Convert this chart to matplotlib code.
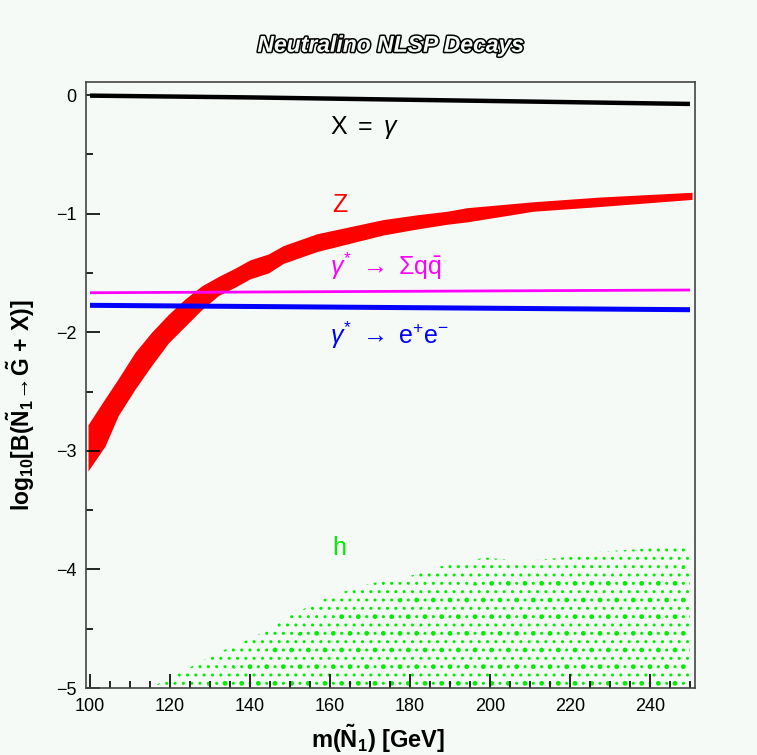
import matplotlib
matplotlib.use("Agg")
import matplotlib.pyplot as plt
import matplotlib.patheffects as pe
from matplotlib.ticker import MultipleLocator

plt.rcParams['font.family'] = ['Liberation Sans', 'DejaVu Sans']
plt.rcParams['mathtext.fontset'] = 'custom'
plt.rcParams['mathtext.rm'] = 'Liberation Sans'
plt.rcParams['mathtext.it'] = 'Liberation Sans:italic'
plt.rcParams['mathtext.bf'] = 'Liberation Sans:bold'
plt.rcParams['hatch.linewidth'] = 1.0

# ---- data ----
# X = gamma (black band)
gam_x = [100, 140, 180, 220, 250]
gam_y = [-0.005, -0.02, -0.04, -0.06, -0.075]

# gamma* -> sum q qbar (magenta)
qq_x = [100, 250]
qq_y = [-1.667, -1.644]

# gamma* -> e+ e- (blue)
ee_x = [100, 250]
ee_y = [-1.773, -1.81]

# Z band (red): lower and upper edges
z_x = [99.5, 103.75, 107.1, 111.25, 115.4, 119.6, 123.75, 127.9, 132.1, 136.25,
       140.0, 144.6, 148.3, 156.7, 165.0, 173.3, 181.7, 189.2, 194.2, 210.8, 227.5, 250.5]
z_lo = [-3.17, -2.96, -2.70, -2.48, -2.28, -2.09, -1.95, -1.81, -1.69, -1.62,
        -1.55, -1.50, -1.42, -1.32, -1.25, -1.18, -1.13, -1.09, -1.07, -0.98, -0.94, -0.88]
z_hi = [-2.78, -2.56, -2.39, -2.17, -2.00, -1.85, -1.72, -1.61, -1.53, -1.46,
        -1.39, -1.34, -1.27, -1.17, -1.11, -1.05, -1.01, -0.98, -0.95, -0.90, -0.86, -0.82]

# h cloud (green): upper envelope of the scattered points
h_x = [115, 122, 131.4, 141, 150.6, 160.3, 169.9, 179.5, 189.1, 198.8, 208.4, 218, 227.6, 237, 250]
h_hi = [-5.0, -4.88, -4.71, -4.57, -4.38, -4.22, -4.12, -4.06, -3.96, -3.90, -3.93, -3.90, -3.85, -3.83, -3.78]
# denser core of the cloud
hc_x = [128, 140, 160, 180, 200, 220, 250]
hc_hi = [-5.0, -4.75, -4.40, -4.22, -4.10, -4.05, -3.98]

bg = '#f5faf7'
fig = plt.figure(figsize=(7.57, 7.55), dpi=100, facecolor=bg)
ax = fig.add_axes([0.1136, 0.0887, 0.8045, 0.8027], facecolor=bg)

ax.plot(gam_x, gam_y, color='black', lw=3.2, solid_capstyle='butt')
ax.fill_between(z_x, z_lo, z_hi, color='#ff0000', lw=0)
ax.plot(qq_x, qq_y, color='#ff00ff', lw=2.0, solid_capstyle='butt')
ax.plot(ee_x, ee_y, color='#0000ff', lw=3.6, solid_capstyle='butt')

ax.fill_between(h_x, -5.0, h_hi, facecolor='none', edgecolor='#00ee00',
                hatch='..', lw=0)
ax.fill_between(hc_x, -5.0, hc_hi, facecolor='none', edgecolor='#00ee00',
                hatch='.', lw=0)

tfs = 18
ax.text(168.75, -0.277, r'$\mathrm{X\ =\ }\gamma$', color='black', fontsize=tfs,
        ha='center', va='center')
ax.text(160.5, -0.924, 'Z', color='#ff0000', fontsize=tfs, ha='left', va='center')
ax.text(160.0, -1.445, r'$\gamma^{*}\ \rightarrow\ \Sigma\mathrm{q}\bar{\mathrm{q}}$',
        color='#ff00ff', fontsize=tfs, ha='left', va='center')
ax.text(160.0, -2.03, r'$\gamma^{*}\ \rightarrow\ \mathrm{e}^{+}\mathrm{e}^{-}$',
        color='#0000ff', fontsize=tfs, ha='left', va='center')
ax.text(160.5, -3.82, 'h', color='#00ee00', fontsize=tfs, ha='left', va='center')

ax.set_xlim(99.0, 251.25)
ax.set_ylim(-5.0, 0.11)
ax.xaxis.set_major_locator(MultipleLocator(20))
ax.xaxis.set_minor_locator(MultipleLocator(5))
ax.yaxis.set_major_locator(MultipleLocator(1))
ax.yaxis.set_minor_locator(MultipleLocator(0.5))
ax.tick_params(which='both', direction='in', top=False, right=False,
               labelsize=13, color='black', width=1.2)
ax.tick_params(which='major', length=10, pad=7)
ax.tick_params(which='minor', length=5)
ax.set_yticks([0, -1, -2, -3, -4, -5])
ax.set_yticklabels(['0', '\u22121', '\u22122', '\u22123', '\u22124', '\u22125'])
for s in ax.spines.values():
    s.set_linewidth(1.2)
    s.set_color('#444444')

ax.set_xlabel(r'$\mathbf{m(\tilde{N}_1)\ [GeV]}$', fontsize=17)
ax.set_ylabel(r'$\mathbf{log_{10}[B(\tilde{N}_1\!\rightarrow\!\tilde{G}\,+\,X)]}$',
              fontsize=16.5)
ax.xaxis.set_label_coords(0.48, -0.058)
ax.yaxis.set_label_coords(-0.08, 0.467)

fig.text(0.516, 0.940, 'Neutralino NLSP Decays', fontsize=16.5, fontweight='bold',
         style='italic', ha='center', va='center', color=bg,
         path_effects=[pe.Stroke(linewidth=2.2, foreground='black'), pe.Normal()])

fig.savefig('out.png', dpi=100, facecolor=bg)
